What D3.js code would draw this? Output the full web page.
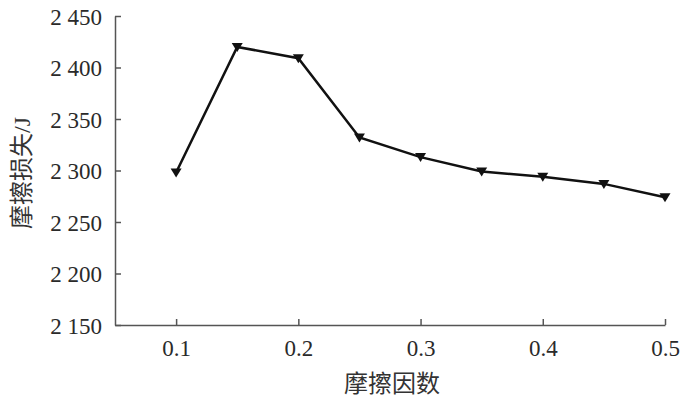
<!DOCTYPE html>
<meta charset="utf-8">
<style>
    body { margin: 0; background: #fff; }
    .tick text { font-family: "Liberation Serif", serif; font-size: 23px; fill: #2a2a2a; }
    .axis path, .axis line { stroke: #555; stroke-width: 1.5px; }
    .title { font-family: "Liberation Serif", "Noto Sans CJK SC", sans-serif; font-size: 24px; fill: #333; }
</style>
<svg id="chart" width="700" height="402"></svg>
<script src="https://d3js.org/d3.v7.min.js"></script>
<script>

    var frictionFactor = [0.1, 0.15, 0.2, 0.25, 0.3, 0.35, 0.4, 0.45, 0.5];
    var frictionLoss = [2298, 2420, 2409, 2332, 2313, 2299, 2294, 2287, 2274];
    var xTicks = [0.1, 0.2, 0.3, 0.4, 0.5];
    var yTicks = [2150, 2200, 2250, 2300, 2350, 2400, 2450];

    var svg = d3.select("#chart");

    var x = d3.scaleLinear().domain([0.05, 0.5]).range([115, 665]);
    var y = d3.scaleLinear().domain([2150, 2450]).range([325, 16]);

    // y axis, ticks pointing inward
    var yAxis = svg.append("g")
        .attr("class", "axis")
        .attr("transform", "translate(115,0)")
        .call(d3.axisLeft(y).tickValues(yTicks).tickSizeInner(-6).tickSizeOuter(0)
            .tickFormat(function(d) { return String(d).replace(/^(\d)(\d{3})$/, "$1 $2"); }));
    yAxis.selectAll(".tick text").attr("x", -13).attr("dy", "0.35em");

    var xAxis = svg.append("g")
        .attr("class", "axis")
        .attr("transform", "translate(0,325)")
        .call(d3.axisBottom(x).tickValues(xTicks).tickSizeInner(-6).tickSizeOuter(0)
            .tickFormat(d3.format(".1f")));
    xAxis.selectAll(".tick text").attr("y", 15).attr("dy", "0.71em");
    svg.selectAll(".domain").attr("stroke", "#555");

    var pts = frictionFactor.map(function(d, i) { return [d, frictionLoss[i]]; });

    svg.append("path")
        .datum(pts)
        .attr("fill", "none")
        .attr("stroke", "#111")
        .attr("stroke-width", 2.5)
        .attr("d", d3.line().x(function(d) { return x(d[0]); }).y(function(d) { return y(d[1]); }));

    svg.selectAll(".marker")
        .data(pts)
        .enter().append("path")
        .attr("class", "marker")
        .attr("fill", "#111")
        .attr("transform", function(d) { return "translate(" + x(d[0]) + "," + y(d[1]) + ")"; })
        .attr("d", "M-5.5,-4L5.5,-4L0,5Z");

    svg.append("text")
        .attr("class", "title")
        .attr("x", 392)
        .attr("y", 392)
        .attr("text-anchor", "middle")
        .text("摩擦因数");

    svg.append("text")
        .attr("class", "title")
        .attr("transform", "translate(30,173) rotate(-90)")
        .attr("text-anchor", "middle")
        .text("摩擦损失/J");

</script>
